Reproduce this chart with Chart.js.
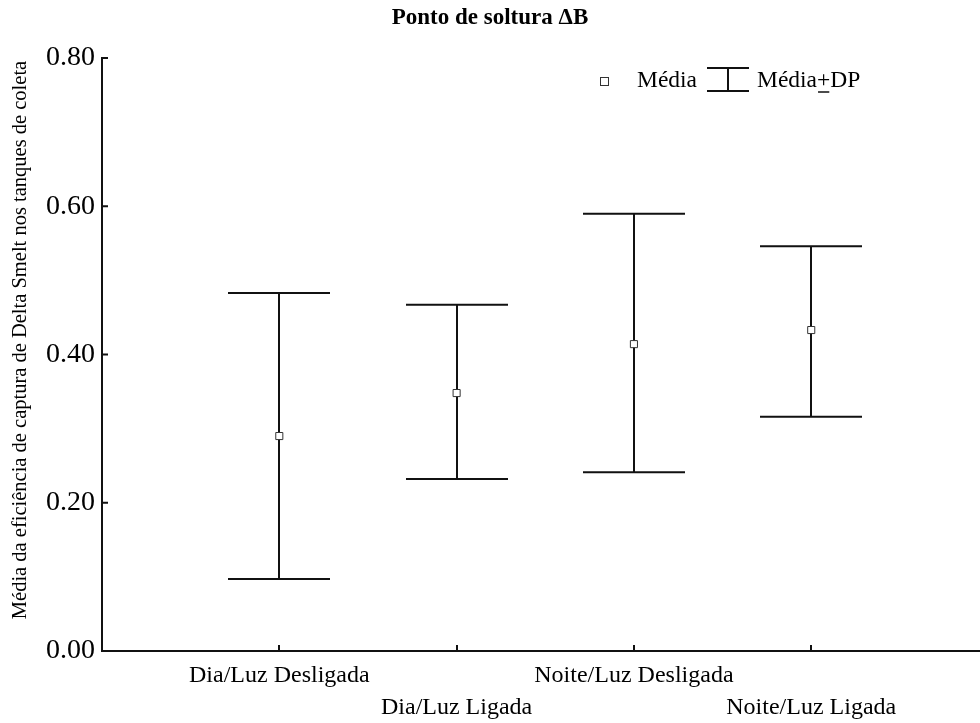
<!DOCTYPE html>
<html>
<head>
<meta charset="utf-8">
<script src="https://cdn.jsdelivr.net/npm/chart.js@4"></script>
<style>
html,body{margin:0;padding:0;background:#fff;}
#wrap{width:980px;height:723px;}
</style>
</head>
<body>
<div id="wrap"><canvas id="c" width="980" height="723"></canvas></div>
<script>
// ---- data ----
const categories = ['Dia/Luz Desligada', 'Dia/Luz Ligada', 'Noite/Luz Desligada', 'Noite/Luz Ligada'];
const categoryPositions = [1, 2, 3, 4];
const means = [0.290, 0.348, 0.414, 0.433];
const upperSD = [0.483, 0.467, 0.590, 0.546];
const lowerSD = [0.097, 0.232, 0.241, 0.316];
const yTicks = [0, 0.2, 0.4, 0.6, 0.8];
const titleText = 'Ponto de soltura \u0394B';
const yTitle = 'Média da eficiência de captura de Delta Smelt nos tanques de coleta';
const legendMean = 'Média';
const legendSD = ['Média', '+', 'DP'];

const SERIF = '"Liberation Serif", "Times New Roman", serif';

const points = categoryPositions.map((x, i) => ({x: x, y: means[i]}));

const errorBarPlugin = {
  id: 'errorBars',
  beforeDatasetsDraw(chart) {
    const {ctx, scales: {x, y}} = chart;
    ctx.save();
    ctx.strokeStyle = '#111';
    ctx.lineWidth = 2;
    const half = 51;
    categoryPositions.forEach((cx, i) => {
      const px = Math.round(x.getPixelForValue(cx));
      const pu = y.getPixelForValue(upperSD[i]);
      const pl = y.getPixelForValue(lowerSD[i]);
      ctx.beginPath();
      ctx.moveTo(px, pu); ctx.lineTo(px, pl);
      ctx.moveTo(px - half, pu); ctx.lineTo(px + half, pu);
      ctx.moveTo(px - half, pl); ctx.lineTo(px + half, pl);
      ctx.stroke();
    });
    ctx.restore();
  },
  afterDraw(chart) {
    const {ctx, scales: {x, y}, chartArea} = chart;
    ctx.save();
    // inward ticks
    ctx.strokeStyle = '#111';
    ctx.lineWidth = 2;
    ctx.beginPath();
    yTicks.forEach(v => {
      const py = y.getPixelForValue(v);
      ctx.moveTo(chartArea.left, py); ctx.lineTo(chartArea.left + 6, py);
    });
    categoryPositions.forEach(v => {
      const px = Math.round(x.getPixelForValue(v));
      ctx.moveTo(px, chartArea.bottom); ctx.lineTo(px, chartArea.bottom - 6);
    });
    // axis line continues to the canvas edge
    const by = Math.round(chartArea.bottom);
    ctx.moveTo(chartArea.right - 1, by); ctx.lineTo(chart.width, by);
    ctx.stroke();

    // title
    ctx.fillStyle = '#000';
    ctx.font = 'bold 23px ' + SERIF;
    ctx.textAlign = 'center';
    ctx.textBaseline = 'middle';
    ctx.fillText(titleText, 490, 18);

    // y title
    ctx.save();
    ctx.translate(21, 340);
    ctx.rotate(-Math.PI / 2);
    ctx.font = '20.5px ' + SERIF;
    ctx.textAlign = 'center';
    ctx.textBaseline = 'middle';
    ctx.fillText(yTitle, 0, 0);
    ctx.restore();

    // legend
    ctx.font = '23.5px ' + SERIF;
    ctx.textAlign = 'left';
    ctx.textBaseline = 'middle';
    ctx.fillStyle = '#fff';
    ctx.strokeStyle = '#333';
    ctx.lineWidth = 1;
    ctx.fillRect(600.5, 77.5, 8, 8);
    ctx.strokeRect(600.5, 77.5, 8, 8);
    ctx.fillStyle = '#000';
    ctx.fillText(legendMean, 637, 81);
    ctx.strokeStyle = '#111';
    ctx.lineWidth = 2;
    ctx.beginPath();
    ctx.moveTo(707, 68); ctx.lineTo(749, 68);
    ctx.moveTo(728, 68); ctx.lineTo(728, 91);
    ctx.moveTo(707, 91); ctx.lineTo(749, 91);
    ctx.stroke();
    let lx = 757;
    ctx.fillText(legendSD[0], lx, 81);
    lx += ctx.measureText(legendSD[0]).width;
    ctx.fillText(legendSD[1], lx, 81);
    const pw = ctx.measureText(legendSD[1]).width;
    ctx.lineWidth = 1.5;
    ctx.beginPath();
    ctx.moveTo(lx + 1, 92); ctx.lineTo(lx + pw - 1, 92);
    ctx.stroke();
    lx += pw;
    ctx.fillText(legendSD[2], lx, 81);
    ctx.restore();
  }
};

new Chart(document.getElementById('c'), {
  type: 'scatter',
  data: {
    datasets: [{
      label: legendMean,
      data: points,
      pointStyle: 'rect',
      pointRadius: 5,
      pointHoverRadius: 5,
      backgroundColor: '#fff',
      borderColor: '#333',
      borderWidth: 1
    }]
  },
  options: {
    responsive: false,
    animation: false,
    events: [],
    layout: {padding: {top: 58, right: 0, bottom: 0, left: 0}},
    plugins: {legend: {display: false}, title: {display: false}, tooltip: {enabled: false}},
    scales: {
      x: {
        type: 'linear',
        min: 0,
        max: 4.918,
        afterBuildTicks(scale) { scale.ticks = categoryPositions.map(v => ({value: v})); },
        afterFit(scale) { scale.height = 72; },
        grid: {display: false, drawTicks: false},
        border: {display: true, color: '#111', width: 2},
        ticks: {
          padding: 9,
          color: '#000',
          font: {family: SERIF, size: 24, lineHeight: 1.333},
          maxRotation: 0,
          autoSkip: false,
          callback(v) {
            const i = categoryPositions.indexOf(v);
            if (i < 0) return '';
            return i % 2 === 0 ? [categories[i], ''] : ['', categories[i]];
          }
        }
      },
      y: {
        type: 'linear',
        min: 0,
        max: 0.8,
        afterBuildTicks(scale) { scale.ticks = yTicks.map(v => ({value: v})); },
        afterFit(scale) { scale.width = 102; },
        grid: {display: false, drawTicks: false},
        border: {display: true, color: '#111', width: 2},
        ticks: {
          padding: 7,
          color: '#000',
          font: {family: SERIF, size: 28},
          callback(v) { return Number(v).toFixed(2); }
        }
      }
    }
  },
  plugins: [errorBarPlugin]
});
</script>
</body>
</html>
